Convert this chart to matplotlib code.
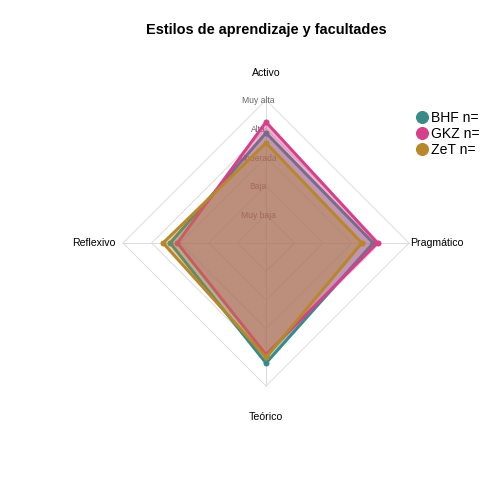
import numpy as np
import matplotlib
matplotlib.use("Agg")
import matplotlib.pyplot as plt
from matplotlib.lines import Line2D

plt.rcParams['font.family'] = ['Liberation Sans', 'DejaVu Sans']

# ejes del radar (sentido horario desde arriba)
ejes = ['Activo', 'Pragmático', 'Teórico', 'Reflexivo']
niveles = ['Muy baja', 'Baja', 'Moderada', 'Alta', 'Muy alta']

grupos = ['BHF', 'GKZ', 'ZeT']
etiquetas = ['BHF n=', 'GKZ n=', 'ZeT n=']
colores = ['#3a8a87', '#d6408a', '#b8862b']

# valores en escala 0-5 (Muy alta = 5)
bhf = [3.85, 3.75, 4.2, 3.35]
gkz = [4.23, 3.9, 3.9, 3.1]
zet = [3.5, 3.35, 4.0, 3.6]
valores = [bhf, gkz, zet]

max_val = 5.0
ang = np.pi / 2 - np.arange(len(ejes)) * 2 * np.pi / len(ejes)


def xy(vals):
    r = np.array(vals) / max_val
    x = r * np.cos(ang)
    y = r * np.sin(ang)
    return np.append(x, x[0]), np.append(y, y[0])


fig = plt.figure(figsize=(7, 7), dpi=72)
ax = fig.add_axes([0, 0, 1, 1])
esc = 143.0
ax.set_xlim(-266 / esc, -266 / esc + 504 / esc)
ax.set_ylim(-261 / esc, -261 / esc + 504 / esc)
ax.axis('off')

# rejilla
for i in range(1, len(niveles) + 1):
    gx, gy = xy([i] * len(ejes))
    ax.plot(gx, gy, color='#d9d9d9', lw=0.9, zorder=1)
for a in ang:
    ax.plot([0, np.cos(a)], [0, np.sin(a)], color='#d9d9d9', lw=0.9, zorder=1)

# series (cada una tapa parcialmente a la anterior)
for k, (vals, col) in enumerate(zip(valores, colores)):
    z = 2 + k
    px, py = xy(vals)
    ax.fill(px, py, color=col, alpha=0.4, lw=0, zorder=z)
    ax.plot(px, py, color=col, lw=3, zorder=z + 0.1, solid_joinstyle='miter')
    ax.plot(px[:-1], py[:-1], 'o', color=col, ms=5, zorder=z + 0.1)

# etiquetas de niveles
for i, niv in enumerate(niveles):
    ax.text(-0.056, (i + 1) / max_val - 0.006, niv, ha='center', va='center',
            fontsize=8.5, color='#666666', zorder=2.5)

# etiquetas de ejes
ax.text(0, 1.19, 'Activo', ha='center', va='center', fontsize=10.5)
ax.text(1.005, 0, 'Pragmático', ha='left', va='center', fontsize=10.5)
ax.text(0, -1.22, 'Teórico', ha='center', va='center', fontsize=10.5)
ax.text(-1.05, 0, 'Reflexivo', ha='right', va='center', fontsize=10.5)

fig.text(266 / 504, 1 - 30 / 504, 'Estilos de aprendizaje y facultades',
         ha='center', va='center', fontsize=14.5, fontweight='bold')

handles = [Line2D([], [], marker='o', ls='', color=c, ms=12) for c in colores]
ax.legend(handles, etiquetas, loc='upper left',
          bbox_to_anchor=(418 / 504, 1 - 111 / 504), bbox_transform=fig.transFigure,
          frameon=False, fontsize=14, handlelength=0.6, handletextpad=0.3,
          labelspacing=0.15, borderaxespad=0, borderpad=0)

fig.savefig('out.png', dpi=72)
